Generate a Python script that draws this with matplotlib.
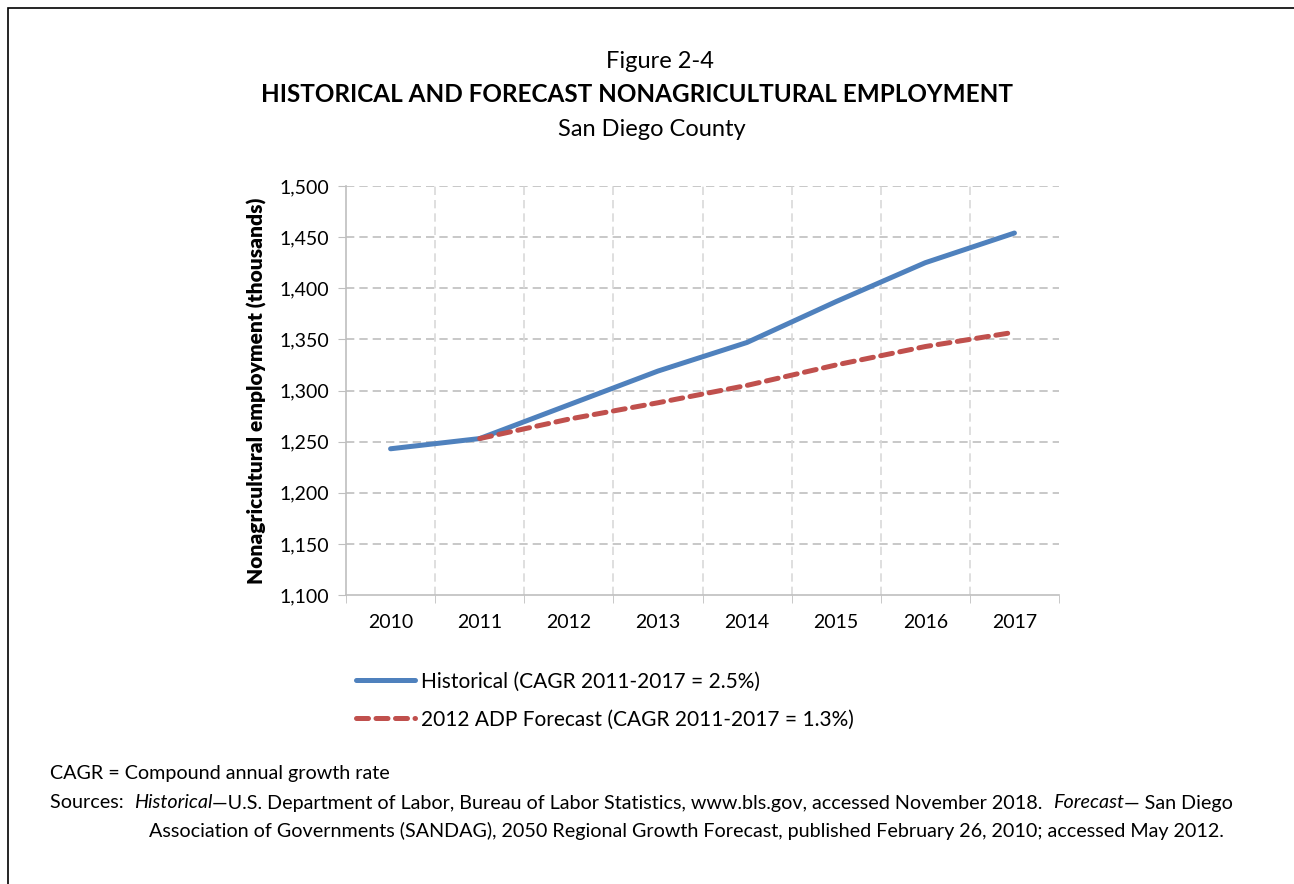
import numpy as np
import matplotlib.pyplot as plt
from matplotlib.lines import Line2D
from matplotlib.patches import Rectangle

plt.rcParams['font.family'] = ['Lato', 'DejaVu Sans']

years = ['2010', '2011', '2012', '2013', '2014', '2015', '2016', '2017']
historical = [1243, 1253, 1286, 1319, 1347, 1387, 1425, 1454]
forecast_years = ['2011', '2012', '2013', '2014', '2015', '2016', '2017']
forecast = [1253, 1272, 1288, 1305, 1325, 1343, 1357]

hist_label = 'Historical (CAGR 2011-2017 = 2.5%)'
fc_label = '2012 ADP Forecast (CAGR 2011-2017 = 1.3%)'

blue = '#4F81BD'
red = '#C0504D'

fig = plt.figure(figsize=(12.94, 8.84), dpi=100)
W, H = 1294, 884

# frame round the figure (only top/left edges visible in the original)
fig.patches.append(Rectangle((8 / W, -0.05), 1.2, 1 - 8 / H + 0.05, transform=fig.transFigure,
                             fill=False, edgecolor='black', linewidth=1.2))

ax = fig.add_axes([346 / W, 1 - 595 / H, (1059 - 346) / W, (595 - 186) / H])

x = np.arange(len(years))
xf = np.array([years.index(y) for y in forecast_years])
ax.plot(x, historical, color=blue, linewidth=3.6, solid_capstyle='round', zorder=3)
ax.plot(xf, forecast, color=red, linewidth=3.6, linestyle=(0, (2.4, 1.5)),
        dash_capstyle='round', zorder=4)

ax.set_xlim(-0.5, len(years) - 0.5)
ax.set_ylim(1100, 1500)
ax.set_yticks(np.arange(1100, 1501, 50))
ax.set_yticklabels([f'{v:,}' for v in range(1100, 1501, 50)])
ax.set_xticks(x)
ax.set_xticklabels(years)
ax.set_xticks(np.arange(-0.5, len(years), 1), minor=True)
ax.tick_params(axis='x', which='major', length=0, pad=14, labelsize=14)
ax.tick_params(axis='x', which='minor', length=6, color='#BFBFBF', direction='out')
ax.tick_params(axis='y', length=6, color='#BFBFBF', labelsize=14, pad=6)

for v in np.arange(1150, 1501, 50):
    ax.axhline(v, color='#BFBFBF', linewidth=1.2, linestyle=(0, (5, 3)), zorder=1)
for b in np.arange(0.5, len(years) - 1, 1):
    ax.axvline(b, color='#D9D9D9', linewidth=1.2, linestyle=(0, (5, 3)), zorder=1)

for s in ['top', 'right']:
    ax.spines[s].set_visible(False)
for s in ['left', 'bottom']:
    ax.spines[s].set_color('#BFBFBF')
    ax.spines[s].set_linewidth(1.2)

ax.set_ylabel('Nonagricultural employment (thousands)', fontsize=15, fontweight='heavy', labelpad=9)

# titles
fig.text(660 / W, 1 - 62 / H, 'Figure 2-4', ha='center', va='center', fontsize=17)
fig.text(637 / W, 1 - 95 / H, 'HISTORICAL AND FORECAST NONAGRICULTURAL EMPLOYMENT',
         ha='center', va='center', fontsize=17.5, fontweight='bold')
fig.text(652 / W, 1 - 129 / H, 'San Diego County', ha='center', va='center', fontsize=17)

# legend below the axes
handles = [Line2D([], [], color=blue, linewidth=3.6, solid_capstyle='round'),
           Line2D([], [], color=red, linewidth=3.6, linestyle=(0, (2.4, 1.5)), dash_capstyle='round')]
fig.legend(handles, [hist_label, fc_label], loc='upper left',
           bbox_to_anchor=(339 / W, 1 - 655 / H), frameon=False, fontsize=15,
           handlelength=2.85, handletextpad=0.3, labelspacing=0.85, borderpad=0.3)

# footnotes
fs = 14.2
fig.text(50 / W, 1 - 773 / H, 'CAGR = Compound annual growth rate', ha='left', va='center', fontsize=fs)

fig.canvas.draw()
renderer = fig.canvas.get_renderer()


def write_runs(x0, y0, runs):
    xp = x0
    for txt, style in runs:
        t = fig.text(xp / W, 1 - y0 / H, txt, ha='left', va='center', fontsize=fs, style=style)
        bb = t.get_window_extent(renderer)
        xp += bb.width


write_runs(50, 803, [('Sources:  ', 'normal'), ('Historical', 'italic'),
                     ('\u2014U.S. Department of Labor, Bureau of Labor Statistics, www.bls.gov, accessed November 2018.  ', 'normal'),
                     ('Forecast', 'italic'), ('\u2014 San Diego', 'normal')])
write_runs(149, 831, [('Association of Governments (SANDAG), 2050 Regional Growth Forecast, published February 26, 2010; accessed May 2012.', 'normal')])

fig.savefig('out.png', dpi=100)
